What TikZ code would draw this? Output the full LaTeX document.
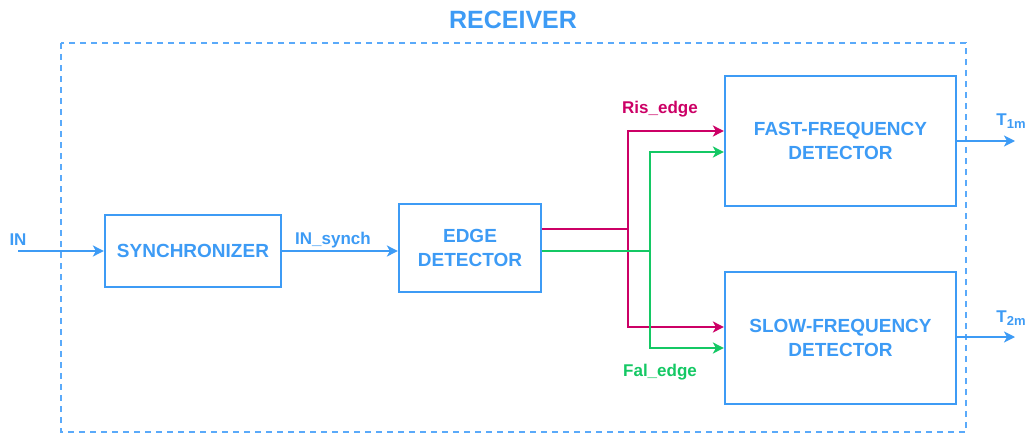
\documentclass[tikz,border=0pt]{standalone}
\usepackage{fontspec}
\setmainfont{Liberation Sans}
\usetikzlibrary{arrows.meta,positioning,calc}
\definecolor{rxBlue}{RGB}{61,155,245}
\definecolor{rxFrame}{RGB}{90,170,250}
\definecolor{rxRed}{RGB}{204,0,102}
\definecolor{rxGreen}{RGB}{20,200,100}

\begin{document}
\begin{tikzpicture}[
    x=1pt, y=-1pt,
    every node/.style={font=\fontsize{19}{24}\selectfont\bfseries, text=rxBlue},
    block/.style={rectangle, draw=rxBlue, line width=2.2pt, align=center, inner sep=0pt},
    arrow/.style={-{Stealth[length=11pt,width=11pt,inset=3pt]}, line width=2.1pt},
    lbl/.style={font=\fontsize{17}{19}\selectfont\bfseries},
    ]
    \useasboundingbox (0,0) rectangle (1027,436);
    % Frame
    \draw[rxFrame, line width=2pt, dash pattern=on 6pt off 5pt] (61,43) rectangle (966,432);
    \node[font=\fontsize{25}{28}\selectfont\bfseries] (title) at (513,20) {RECEIVER};
    % Blocks
    \node[block, minimum width=176pt, minimum height=72pt]  (sync) at (193,251) {SYNCHRONIZER};
    \node[block, minimum width=142pt, minimum height=88pt]  (edge) at (470,248) {EDGE\\DETECTOR};
    \node[block, minimum width=231pt, minimum height=130pt] (fast) at (840.5,141) {FAST-FREQUENCY\\DETECTOR};
    \node[block, minimum width=231pt, minimum height=132pt] (slow) at (840.5,338) {SLOW-FREQUENCY\\DETECTOR};
    % Input side
    \coordinate (in) at (18,251);
    \node[lbl] (inlbl) at (18,240) {IN};
    \draw[arrow, rxBlue] (in) -- (sync.west);
    \draw[arrow, rxBlue] (sync.east) -- (sync.east -| edge.west);
    \node[lbl] (synchlbl) at (333,240) {IN\_synch};
    % Edge split
    \coordinate (rsplit) at (628,229);
    \coordinate (gsplit) at (650,251);
    \coordinate (fastR) at ($(fast.west)+(0,-10)$);
    \coordinate (fastG) at ($(fast.west)+(0,11)$);
    \coordinate (slowR) at ($(slow.west)+(0,-11)$);
    \coordinate (slowG) at ($(slow.west)+(0,10)$);
    \draw[arrow, rxRed] (edge.east |- rsplit) -- (rsplit) |- (fastR);
    \draw[arrow, rxRed] (rsplit) |- (slowR);
    \draw[arrow, rxGreen] (edge.east |- gsplit) -- (gsplit) |- (fastG);
    \draw[arrow, rxGreen] (gsplit) |- (slowG);
    \node[lbl, text=rxRed]   (rislbl) at (660,109) {Ris\_edge};
    \node[lbl, text=rxGreen] (fallbl) at (660,372) {Fal\_edge};
    % Outputs
    \coordinate (tone) at (1015,141);
    \coordinate (ttwo) at (1015,337);
    \draw[arrow, rxBlue] (fast.east) -- (tone);
    \draw[arrow, rxBlue] (slow.east |- ttwo) -- (ttwo);
    \node[lbl] (tonelbl) at (1011,121) {T\raisebox{-0.35ex}{\fontsize{13}{13}\selectfont 1m}};
    \node[lbl] (ttwolbl) at (1011,318) {T\raisebox{-0.35ex}{\fontsize{13}{13}\selectfont 2m}};
\end{tikzpicture}
\end{document}
